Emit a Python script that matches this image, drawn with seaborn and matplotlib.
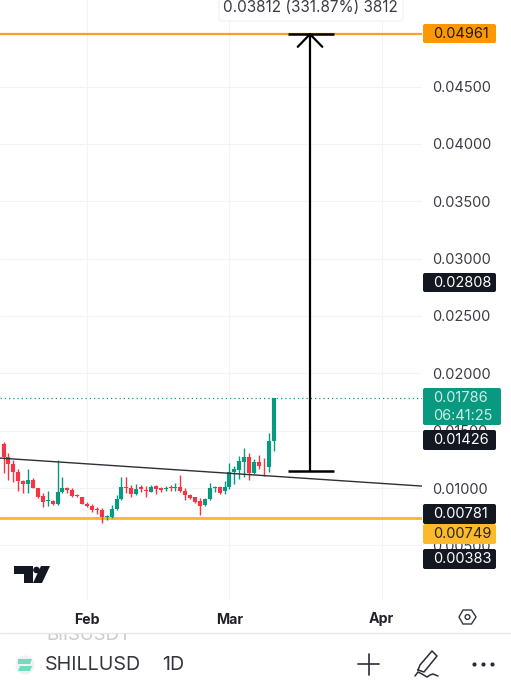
# SHILLUSD daily candles, tradingview mobile look
import matplotlib
matplotlib.use('Agg')
import matplotlib.pyplot as plt
import pandas as pd
import seaborn as sns
from matplotlib.patches import FancyBboxPatch, Polygon, Circle, Rectangle

# days counted from Feb 1
days = list(range(-18, 39))
opens = [.01397, .01388, .01267, .01209, .01136, .01061, .01032, .01069, .01000, .00927,
         .00890, .00890, .00861, .00965, .00997, .00983, .00939, .00922, .00861, .00843,
         .00814, .00809, .00751, .00745, .00814, .00901, .01006, .01003, .00948, .01006,
         .00983, .00968, .01017, .01003, .00988, .01009, .01000, .01006, .00974, .00939,
         .00919, .00887, .00849, .00907, .01003, .01006, .00971, .01012, .01139, .01156,
         .01229, .01272, .01133, .01226, .01194, .01185, .01411]
closes = [.01267, .01267, .01209, .01142, .01064, .01032, .01069, .01003, .00924, .00878,
          .00896, .00861, .00965, .00997, .00985, .00933, .00927, .00864, .00846, .00811,
          .00809, .00745, .00756, .00814, .00901, .01012, .01000, .00948, .00991, .00988,
          .00974, .01012, .00988, .00983, .01003, .01000, .01012, .00974, .00936, .00916,
          .00878, .00846, .00907, .00997, .01012, .00959, .01012, .01142, .01162, .01235,
          .01267, .01133, .01229, .01191, .01191, .01408, .01786]
highs = [.01403, .01397, .01301, .01243, .01170, .01069, .01162, .01084, .01000, .00953,
         .00971, .00896, .01240, .01092, .01006, .00997, .00948, .00924, .00881, .00861,
         .00837, .00823, .00768, .00852, .00939, .01092, .01092, .01026, .01035, .01026,
         .01017, .01026, .01029, .01012, .01014, .01029, .01040, .01116, .00997, .00948,
         .00924, .00910, .00910, .01040, .01017, .01017, .01061, .01220, .01191, .01278,
         .01345, .01307, .01249, .01287, .01264, .01484, .01786]
lows = [.01258, .01133, .01069, .01055, .00977, .00959, .00959, .00997, .00910, .00832,
        .00843, .00852, .00849, .00959, .00959, .00924, .00919, .00858, .00837, .00794,
        .00771, .00698, .00722, .00736, .00809, .00896, .00959, .00924, .00939, .00968,
        .00924, .00962, .00945, .00968, .00977, .00977, .00977, .00968, .00896, .00907,
        .00866, .00765, .00846, .00896, .00968, .00948, .00948, .00988, .01035, .01075,
        .01092, .01069, .01122, .01162, .01104, .01142, .01325]

price_ticks = [0.005, 0.010, 0.015, 0.020, 0.025, 0.030, 0.035, 0.040, 0.045]
month_days = [0, 29, 60]
month_names = ['Feb', 'Mar', 'Apr']
top_level = 0.04961
low_level = 0.00741
last_price = 0.01786
trend_days = [-17.72, 68.2]
trend_prices = [0.01261, 0.01017]
proj_day = 45.4
proj_cap = [41.0, 50.2]
proj_from = 0.01149

GREEN = '#089981'
RED = '#f23645'
DARK = '#131722'
TXT = '#3a3d45'

sns.set_theme(style='white')
plt.rcParams['font.family'] = ['Inter', 'DejaVu Sans']

wick_rows = []
body_rows = []
for d, o, c, h, l in zip(days, opens, closes, highs, lows):
    side = 'up' if c >= o else 'down'
    wick_rows += [(d, h, side), (d, l, side)]
    body_rows += [(d, o, side), (d, c, side)]
wicks = pd.DataFrame(wick_rows, columns=['day', 'price', 'side'])
bodies = pd.DataFrame(body_rows, columns=['day', 'price', 'side'])

fig = plt.figure(figsize=(5.11, 6.80), dpi=100, facecolor='white')
ax = fig.add_axes([0, 80 / 680, 422 / 511, 600 / 680])
pal = {'up': GREEN, 'down': RED}

sns.lineplot(data=wicks, x='day', y='price', hue='side', units='day', estimator=None, palette=pal,
             linewidth=1.0, legend=False, ax=ax, zorder=3, solid_capstyle='butt')
sns.lineplot(data=bodies, x='day', y='price', hue='side', units='day', estimator=None, palette=pal,
             linewidth=3.0, legend=False, ax=ax, zorder=4, solid_capstyle='butt')

ax.set_xlim(-17.72, 68.2)
ax.set_ylim(0.00024, 0.05254)
ax.set_xlabel('')
ax.set_ylabel('')
sns.despine(ax=ax, left=True, bottom=True)
ax.yaxis.tick_right()
ax.set_yticks(price_ticks, ['%.5f' % p for p in price_ticks])
ax.set_xticks(month_days, month_names)
ax.tick_params(axis='y', length=0, pad=7, labelsize=10.5, labelcolor=TXT, right=False)
ax.tick_params(axis='x', length=0, pad=9, labelsize=10.2, labelcolor='#1f2229', bottom=False)
for t in ax.get_xticklabels():
    t.set_fontweight('bold')
ax.grid(True, color='#f2f3f6', lw=0.8)
ax.set_axisbelow(True)

ax.axhline(top_level, color='#ff9f1a', lw=1.6, zorder=2)
ax.axhline(low_level, color='#fbb62c', lw=2.0, zorder=2)
ax.axhline(last_price, color=GREEN, lw=0.9, ls=(0, (1, 2.4)), zorder=2)
ax.plot(trend_days, trend_prices, color='#2e3035', lw=1.0, zorder=5)

# projection arrow
ax.plot([proj_day, proj_day], [proj_from, top_level], color='black', lw=1.6, zorder=6)
ax.plot(proj_cap, [proj_from, proj_from], color='black', lw=1.8, zorder=6, solid_capstyle='butt')
ax.plot(proj_cap, [top_level, top_level], color='black', lw=1.8, zorder=6, solid_capstyle='butt')
ax.plot([proj_day - 2.5, proj_day, proj_day + 2.5], [top_level - 0.00115, top_level - 0.00005, top_level - 0.00115],
        color='black', lw=1.6, zorder=6)

# overlay in pixels for labels and toolbar
ui = fig.add_axes([0, 0, 1, 1], zorder=10)
ui.set_xlim(0, 511)
ui.set_ylim(680, 0)
ui.axis('off')
ui.patch.set_alpha(0)


def tag(x0, x1, y0, y1, color, lines, tcol):
    ui.add_patch(FancyBboxPatch((x0 + 2, y0 + 2), x1 - x0 - 4, y1 - y0 - 4, boxstyle='round,pad=2,rounding_size=2',
                                fc=color, ec='none'))
    step = (y1 - y0) / len(lines)
    for i, s in enumerate(lines):
        ui.text(x0 + 10, y0 + step * (i + 0.5) + 0.3, s, color=tcol, fontsize=10.5, va='center', ha='left')


tag(423, 496, 24, 43, '#ff9800', ['0.04961'], '#1c1c1c')
tag(423, 496, 273, 292, DARK, ['0.02808'], 'white')
tag(423, 501, 388, 425, GREEN, ['0.01786', '06:41:25'], '#cdeee6')
tag(423, 496, 430, 450, DARK, ['0.01426'], 'white')
tag(423, 496, 504, 524, DARK, ['0.00781'], 'white')
tag(423, 496, 524, 544, '#fdb92c', ['0.00749'], '#2a2414')
tag(423, 496, 549, 569, DARK, ['0.00383'], 'white')

# measure tooltip
ui.add_patch(FancyBboxPatch((222, -6), 178, 24, boxstyle='round,pad=3,rounding_size=4', fc='white', ec='#eeeff2', lw=0.8))
ui.text(310, 7.5, '0.03812 (331.87%) 3812', ha='center', va='center', fontsize=11.0, color=TXT)

# tradingview logo
ui.add_patch(Polygon([(14, 566), (33, 566), (33, 583), (24, 583), (24, 574), (14, 574)], fc=DARK, ec='none'))
ui.add_patch(Circle((36.5, 570), 3.3, fc=DARK, ec='none'))
ui.add_patch(Polygon([(41, 566), (50, 566), (42, 583), (33, 583)], fc=DARK, ec='none'))

# hexagon settings button
ui.add_patch(Polygon([(459, 617), (463, 610), (471.5, 610), (476, 617), (471.5, 624), (463, 624)],
                     fc='white', ec='#33363d', lw=1.0))
ui.add_patch(Circle((467.5, 617), 2.4, fc='white', ec='#33363d', lw=1.0))

# toolbar
ui.plot([0, 511], [633, 633], color='#e6e7ea', lw=1.0)
faded = ui.text(46, 635, 'BIISUSDT', color='#c9cbd1', fontsize=13.4, va='center')
faded.set_clip_on(True)
faded.set_clip_path(Rectangle((0, 634), 511, 46, transform=ui.transData))
ui.add_patch(Circle((25, 665), 9.5, fc='#eef1f5', ec='none'))
ui.add_patch(Polygon([(18, 659), (32, 659), (30, 664), (18, 664)], fc='#6fdcc0', ec='none'))
ui.add_patch(Polygon([(20, 666), (32, 666), (30, 671), (18, 671)], fc='#6fdcc0', ec='none'))
ui.text(45, 664.5, 'SHILLUSD', color='#33363d', fontsize=14.2, va='center')
ui.text(162, 664.5, '1D', color='#33363d', fontsize=14.2, va='center')
ui.plot([358, 379], [664, 664], color='#2a2d33', lw=1.2)
ui.plot([368.5, 368.5], [654, 675], color='#2a2d33', lw=1.2)
ui.plot([418, 424, 437, 432, 420, 418], [670, 672, 656, 651, 665, 670], color='#2a2d33', lw=1.1)
ui.plot([415, 418, 422, 427, 430, 433, 438], [676, 672, 674, 677, 675, 674, 676], color='#2a2d33', lw=1.1)
ui.scatter([474, 483, 492], [664, 664, 664], s=9, color='#2a2d33', linewidths=0)

fig.savefig('out.png', dpi=100)
